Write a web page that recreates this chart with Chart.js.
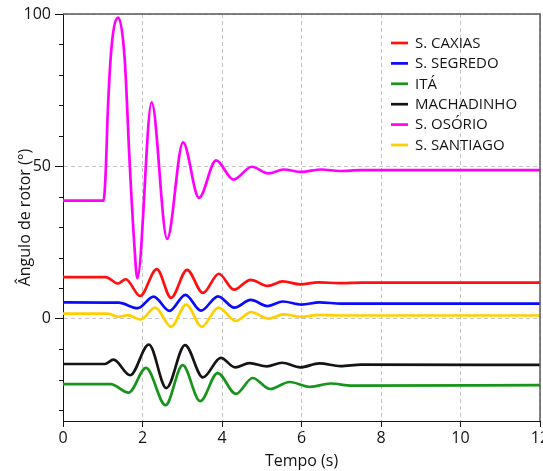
<!DOCTYPE html>
<html lang="pt-BR">
<head>
<meta charset="utf-8">
<title>Ângulo de rotor</title>
<script src="https://cdn.jsdelivr.net/npm/chart.js@4.4.1/dist/chart.umd.min.js"></script>
<style>
    html, body { margin: 0; padding: 0; background: #fff; overflow: hidden; }
    #wrap { position: relative; width: 560px; height: 471px; }
</style>
</head>
<body>
<div id="wrap"><canvas id="chartRotor"></canvas></div>
<script>
// instantes (s) e ângulos de rotor (graus) de cada usina
const tCaxias   = [0, 1.08, 1.38, 1.58, 1.94, 2.36, 2.72, 3.12, 3.52, 3.92, 4.30, 4.72, 5.15, 5.53, 5.97, 6.42, 6.95, 7.5, 12];
const caxias    = [13.7, 13.7, 11.6, 13.0, 7.5, 16.3, 6.9, 16.1, 8.5, 14.8, 9.6, 12.8, 10.8, 12.3, 11.3, 12.0, 11.7, 11.9, 11.9];

const tSegredo  = [0, 1.40, 1.88, 2.28, 2.68, 3.08, 3.47, 3.90, 4.31, 4.72, 5.15, 5.53, 6.0, 6.45, 7.0, 12];
const segredo   = [5.4, 5.3, 3.5, 7.3, 2.6, 7.9, 2.7, 7.4, 3.7, 6.2, 4.2, 5.7, 4.7, 5.4, 5.0, 5.0];

const tIta      = [0, 1.20, 1.65, 2.09, 2.58, 3.01, 3.45, 3.89, 4.35, 4.77, 5.21, 5.70, 6.22, 6.73, 7.27, 12];
const ita       = [-21.4, -21.4, -24.2, -16.1, -28.3, -15.2, -27.0, -17.8, -24.6, -19.4, -23.0, -20.7, -22.3, -21.2, -21.9, -21.7];

const tMachad   = [0, 1.05, 1.27, 1.69, 2.16, 2.60, 3.07, 3.52, 3.97, 4.33, 4.69, 5.13, 5.51, 5.97, 6.45, 6.98, 7.5, 12];
const machad    = [-14.8, -14.8, -13.4, -18.5, -8.4, -22.7, -8.6, -19.2, -12.8, -15.9, -14.5, -15.6, -14.4, -15.9, -14.6, -15.5, -15.0, -15.1];

const tOsorio   = [0, 1.02, 1.07, 1.13, 1.22, 1.39, 1.55, 1.68, 1.79, 1.87, 2.23, 2.62, 3.02, 3.42, 3.85, 4.29, 4.75, 5.17, 5.55, 6.0, 6.5, 6.95, 7.5, 12];
const osorio    = [38.8, 38.8, 47.0, 69.0, 89.0, 98.8, 85.6, 50.4, 25.2, 13.3, 71.0, 26.2, 57.9, 39.7, 52.0, 45.7, 49.9, 47.7, 49.0, 48.2, 49.0, 48.5, 48.8, 48.8];

const tSantiago = [0, 1.13, 1.39, 1.63, 1.95, 2.32, 2.72, 3.10, 3.49, 3.91, 4.35, 4.73, 5.17, 5.55, 5.98, 6.45, 7.0, 12];
const santiago  = [1.7, 1.7, 0.7, 1.2, -0.2, 3.7, -2.6, 4.7, -2.6, 3.7, -0.7, 2.2, 0.1, 1.5, 0.7, 1.3, 1.1, 1.1];

const xLabels = [0, 2, 4, 6, 8, 10, 12];
const yLabels = [0, 50, 100];

const FONT = '"Open Sans", "Noto Sans", sans-serif';
const INK = '#141414';

function pts(t, v) {
    return t.map((x, i) => ({ x: x, y: v[i] }));
}

function serie(label, t, v, color, order) {
    return {
        label: label,
        data: pts(t, v),
        borderColor: color,
        backgroundColor: color,
        borderWidth: 2.7,
        pointRadius: 0,
        cubicInterpolationMode: 'monotone',
        fill: false,
        order: order
    };
}

// legenda desenhada dentro da área do gráfico
const legendInside = {
    id: 'legendInside',
    afterDatasetsDraw(chart) {
        const { ctx, chartArea } = chart;
        const x0 = chartArea.right - 149;
        const y0 = chartArea.top + 29;
        ctx.save();
        ctx.font = '15px ' + FONT;
        ctx.textBaseline = 'middle';
        ctx.textAlign = 'left';
        chart.data.datasets.forEach((ds, i) => {
            const y = y0 + i * 20.4;
            ctx.strokeStyle = ds.borderColor;
            ctx.lineWidth = 2.7;
            ctx.beginPath();
            ctx.moveTo(x0, y);
            ctx.lineTo(x0 + 17, y);
            ctx.stroke();
            ctx.fillStyle = INK;
            ctx.fillText(ds.label, x0 + 24, y + 0.5);
        });
        ctx.restore();
    }
};

// moldura superior/direita e marcas menores do eixo y
const frame = {
    id: 'frame',
    afterDraw(chart) {
        const { ctx, chartArea: a, scales: { y } } = chart;
        ctx.save();
        ctx.strokeStyle = '#5a5a5a';
        ctx.lineWidth = 1.5;
        ctx.beginPath();
        ctx.moveTo(a.left, a.top);
        ctx.lineTo(a.right, a.top);
        ctx.lineTo(a.right, a.bottom);
        ctx.stroke();

        ctx.strokeStyle = INK;
        ctx.lineWidth = 1;
        y.ticks.forEach(tk => {
            if (yLabels.includes(tk.value)) return;
            const py = Math.round(y.getPixelForValue(tk.value)) + 0.5;
            ctx.beginPath();
            ctx.moveTo(a.left - 4, py);
            ctx.lineTo(a.left, py);
            ctx.stroke();
        });
        ctx.restore();
    }
};

new Chart(document.getElementById('chartRotor').getContext('2d'), {
    type: 'line',
    data: {
        datasets: [
            serie('S. CAXIAS', tCaxias, caxias, '#ff1010', 2),
            serie('S. SEGREDO', tSegredo, segredo, '#0a0aff', 2),
            serie('ITÁ', tIta, ita, '#17951a', 2),
            serie('MACHADINHO', tMachad, machad, '#141414', 2),
            serie('S. OSÓRIO', tOsorio, osorio, '#ff00ff', 0),
            serie('S. SANTIAGO', tSantiago, santiago, '#ffd000', 1)
        ]
    },
    options: {
        animation: false,
        responsive: true,
        maintainAspectRatio: false,
        layout: { padding: { top: 14, right: 20, bottom: 0, left: 0 } },
        plugins: {
            legend: { display: false },
            tooltip: { enabled: false }
        },
        scales: {
            x: {
                type: 'linear',
                min: 0,
                max: 12,
                afterFit(s) {
                    s.height = 50;
                    s.paddingLeft = 0;
                    s.paddingRight = 0;
                },
                ticks: {
                    stepSize: 0.5,
                    autoSkip: false,
                    maxRotation: 0,
                    padding: 2,
                    color: INK,
                    font: { family: FONT, size: 16 },
                    callback: v => xLabels.includes(v) ? String(v) : ''
                },
                grid: {
                    color: c => xLabels.includes(c.tick.value) ? '#c4c4c4' : 'transparent',
                    lineWidth: c => xLabels.includes(c.tick.value) ? 1 : 0,
                    tickColor: INK,
                    tickLength: 6
                },
                border: { color: INK, width: 1, dash: [4, 3] },
                title: {
                    display: true,
                    text: 'Tempo (s)',
                    color: INK,
                    font: { family: FONT, size: 16 },
                    padding: { top: 0, bottom: 0 }
                }
            },
            y: {
                min: -33.5,
                max: 100,
                afterFit(s) {
                    s.width = 63;
                    s.paddingTop = 0;
                    s.paddingBottom = 0;
                },
                ticks: {
                    stepSize: 10,
                    includeBounds: false,
                    autoSkip: false,
                    padding: 4,
                    color: INK,
                    font: { family: FONT, size: 16 },
                    callback: v => yLabels.includes(v) ? String(v) : ''
                },
                grid: {
                    color: c => yLabels.includes(c.tick.value) ? '#c4c4c4' : 'transparent',
                    lineWidth: c => yLabels.includes(c.tick.value) ? 1 : 0,
                    tickColor: c => yLabels.includes(c.tick.value) ? INK : 'transparent',
                    tickLength: 8
                },
                border: { color: INK, width: 1, dash: [4, 3] },
                title: {
                    display: true,
                    text: 'Ângulo de rotor (°)',
                    color: INK,
                    font: { family: FONT, size: 16 },
                    padding: { top: 16, bottom: 0 }
                }
            }
        }
    },
    plugins: [legendInside, frame]
});
</script>
</body>
</html>
